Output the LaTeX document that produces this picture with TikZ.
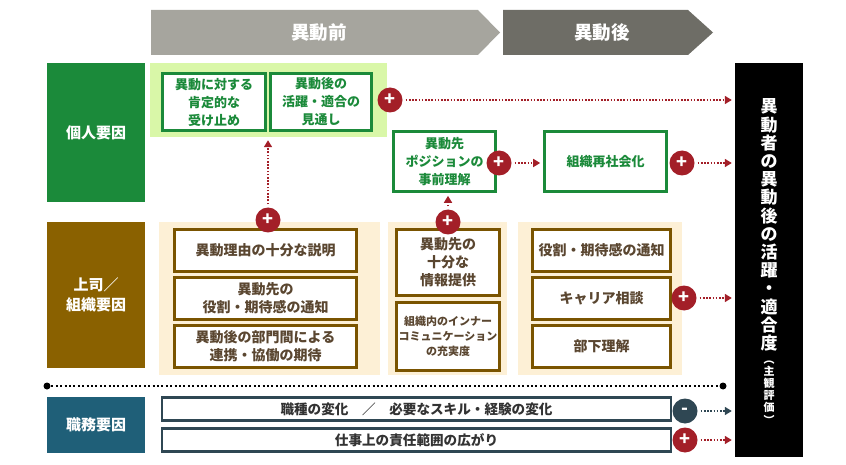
\documentclass[tikz,border=0pt]{standalone}
\usepackage{fontspec}
\setmainfont{Noto Sans CJK JP}
\usetikzlibrary{arrows.meta,positioning}

\definecolor{kgreen}{HTML}{1B8A3A}
\definecolor{kgreenbg}{HTML}{D9F7A8}
\definecolor{kbrown}{HTML}{8A6100}
\definecolor{kbrownln}{HTML}{7A5400}
\definecolor{ktan}{HTML}{FDF0D6}
\definecolor{kbrowntx}{HTML}{5A4630}
\definecolor{kred}{HTML}{A31F28}
\definecolor{kteal}{HTML}{1F5F78}
\definecolor{kslate}{HTML}{2F4753}
\definecolor{hdrlight}{HTML}{A6A59E}
\definecolor{hdrdark}{HTML}{6E6D66}

\begin{document}
\begin{tikzpicture}[x=1pt,y=-1pt,
  every node/.style={font=\bfseries, inner sep=0pt},
  catbox/.style={minimum width=98pt, text=white, align=center,
    font=\bfseries\fontsize{15}{20}\selectfont},
  gbox/.style={draw=kgreen, line width=2.6pt, fill=white, text=kgreen, align=center,
    font=\bfseries\fontsize{13}{18}\selectfont},
  bbox/.style={draw=kbrownln, line width=2.6pt, fill=white, text=kbrowntx, align=center,
    font=\bfseries\fontsize{14}{18}\selectfont},
  jbox/.style={draw=kslate, line width=2.6pt, fill=white, text=black!80, align=center,
    minimum width=509pt, minimum height=23.5pt, font=\bfseries\fontsize{13.6}{16}\selectfont},
  sign/.style={circle, fill=kred, minimum size=25pt, text=white,
    font=\bfseries\fontsize{18}{18}\selectfont},
  rarrow/.style={draw=kred, line width=1.6pt, dash pattern=on 1.6pt off 1.6pt,
    -{Triangle[length=7pt,width=8pt,fill=kred]}, shorten <=3pt, shorten >=3pt},
  sarrow/.style={rarrow, draw=kslate, -{Triangle[length=7pt,width=8pt,fill=kslate]}}]
  \useasboundingbox (0,0) rectangle (846,465);

  % header
  \fill[hdrlight] (151,10) -- (478,10) -- (500,32.5) -- (478,55) -- (151,55) -- cycle;
  \fill[hdrdark] (503,10) -- (688,10) -- (713,32.5) -- (688,55) -- (503,55) -- cycle;
  \node[text=white, font=\bfseries\fontsize{18.5}{18}\selectfont] (pre) at (319,33) {異動前};
  \node[text=white, font=\bfseries\fontsize{18.5}{18}\selectfont] (post) at (602,33) {異動後};

  % categories
  \node[catbox, fill=kgreen, minimum height=139pt] (cat1) at (96,132.5) {個人要因};
  \node[catbox, fill=kbrown, minimum height=146pt] (cat2) at (96,295) {上司／\\組織要因};
  \node[catbox, fill=kteal, minimum height=56pt] (cat3) at (96,425) {職務要因};

  % backgrounds
  \node[fill=kgreenbg, minimum width=237pt, minimum height=74pt] (gbg) at (268.5,100) {};
  \node[fill=ktan, minimum width=221pt, minimum height=153pt] (tbg1) at (269.5,298.5) {};
  \node[fill=ktan, minimum width=119pt, minimum height=153pt] (tbg2) at (447.5,298.5) {};
  \node[fill=ktan, minimum width=164pt, minimum height=153pt] (tbg3) at (600,298.5) {};

  % individual
  \node[gbox, minimum width=103pt, minimum height=57pt] (p1) at (214,102) {異動に対する\\肯定的な\\受け止め};
  \node[gbox, minimum width=101pt, minimum height=57pt] (p2) at (321,102) {異動後の\\活躍・適合の\\見通し};
  \node[gbox, minimum width=102pt, minimum height=60pt] (p3) at (444.5,161.5) {異動先\\ポジションの\\事前理解};
  \node[gbox, minimum width=122pt, minimum height=60pt] (p4) at (605.5,161.5) {組織再社会化};

  % boss / organisation
  \node[bbox, minimum width=182pt, minimum height=42pt] (b1) at (265.5,250.5) {異動理由の十分な説明};
  \node[bbox, minimum width=182pt, minimum height=42pt] (b2) at (265.5,298.5) {異動先の\\役割・期待感の通知};
  \node[bbox, minimum width=182pt, minimum height=42pt] (b3) at (265.5,346.5) {異動後の部門間による\\連携・協働の期待};
  \node[bbox, minimum width=103pt, minimum height=66pt] (b4) at (448,262.5) {異動先の\\十分な\\情報提供};
  \node[bbox, minimum width=103pt, minimum height=68pt, font=\bfseries\fontsize{11}{15}\selectfont] (b5) at (448,336.5) {組織内のインナー\\コミュニケーション\\の充実度};
  \node[bbox, minimum width=138pt, minimum height=42pt] (b6) at (601.5,250.5) {役割・期待感の通知};
  \node[bbox, minimum width=138pt, minimum height=42pt] (b7) at (601.5,298.5) {キャリア相談};
  \node[bbox, minimum width=138pt, minimum height=42pt] (b8) at (601.5,346.5) {部下理解};

  % job
  \node[jbox] (j1) at (416.5,409) {職種の変化\quad／\quad 必要なスキル・経験の変化};
  \node[jbox] (j2) at (416.5,440) {仕事上の責任範囲の広がり};

  % outcome
  \node[fill=black, minimum width=68pt, minimum height=394pt] (res) at (769,260) {};
  \node[text=white, align=center, font=\bfseries\fontsize{17}{18.2}\selectfont] (restx) at (769,225)
    {異\\動\\者\\の\\異\\動\\後\\の\\活\\躍\\・\\適\\合\\度};
  \node[text=white, align=center, font=\bfseries\fontsize{11}{12.2}\selectfont, below=9pt of restx] (resnote)
    {︵\\主\\観\\評\\価\\︶};

  % separator
  \coordinate (dl) at (47,386);
  \coordinate (dr) at (723,386);
  \draw[line width=2pt, dash pattern=on 2pt off 2.4pt] (dl) -- (dr);
  \fill (dl) circle (3.5);
  \fill (dr) circle (3.5);

  % signs
  \node[sign] (s1) at (390,100) {+};
  \node[sign] (s2) at (499,163) {+};
  \node[sign] (s3) at (682,163) {+};
  \node[sign] (s4) at (268,220) {+};
  \node[sign] (s5) at (448,222) {+};
  \node[sign] (s6) at (684,298) {+};
  \node[sign, fill=kslate] (s7) at (685,411) {-};
  \node[sign] (s8) at (685,440) {+};

  \draw[rarrow] (s1) -- (s1 -| res.west);
  \draw[rarrow] (s2) -- (p4.west |- s2);
  \draw[rarrow] (s3) -- (s3 -| res.west);
  \draw[rarrow] (s4) -- (s4 |- gbg.south);
  \draw[rarrow] (s5) -- (s5 |- p3.south);
  \draw[rarrow] (s6) -- (s6 -| res.west);
  \draw[sarrow] (s7) -- (s7 -| res.west);
  \draw[rarrow] (s8) -- (s8 -| res.west);
\end{tikzpicture}
\end{document}
